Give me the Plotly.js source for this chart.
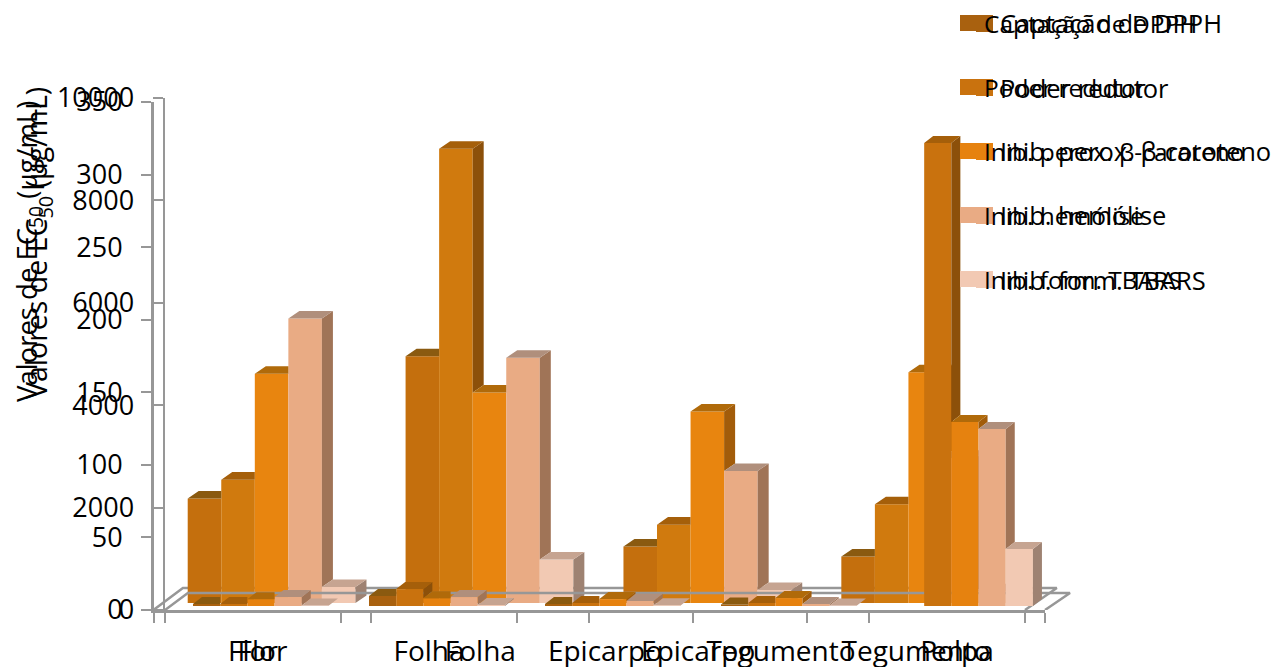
<!DOCTYPE html>
<html>
<head>
<meta charset="utf-8">
<script src="https://cdn.plot.ly/plotly-3.0.1.min.js"></script>
<style>html,body{margin:0;padding:0;background:#fff}#chart{width:1276px;height:667px}</style>
</head>
<body>
<div id="chart"></div>
<script>
// Categories of each of the two superimposed charts
const categoriesWide = ['Flor', 'Folha', 'Epicarpo', 'Tegumento'];
const categoriesNarrow = ['Flor', 'Folha', 'Epicarpo', 'Tegumento', 'Polpa'];

const seriesNames = ['Captação de DPPH', 'Poder redutor', 'Inib. perox. β-caroteno', 'Inib. hemólise', 'Inib. form. TBARS'];

// EC50 values, 0-350 scale (one row per series, one column per category)
const wideDpph = [72, 170, 39, 32];
const wideReducing = [85, 313, 54, 68];
const wideCarotene = [158, 145, 132, 159];
const wideHemolysis = [196, 169, 91, 100];
const wideTbars = [11, 30, 9, 8];

// EC50 values, 0-10000 scale; null where a sample has no bar
const narrowDpph = [40, 195, 40, 30, null];
const narrowReducing = [40, 330, 60, 60, 9043];
const narrowCarotene = [130, 150, 135, 155, 3594];
const narrowHemolysis = [175, 175, 100, 40, 3457];
const narrowTbars = [10, 20, 15, 10, 1113];

const ticksWide = [0, 50, 100, 150, 200, 250, 300, 350];
const ticksNarrow = [0, 2000, 4000, 6000, 8000, 10000];

const legendColors = ['#A9610F', '#C9720E', '#E6820F', '#E9AB84', '#F2C9B3'];
const wideFrontColors = ['#C46F0D', '#D07A0E', '#E8850F', '#E9AB84', '#F2C9B3'];
const sideColors = ['#7C4608', '#8C500A', '#A25C0A', '#A07457', '#9E8272'];
const topColors = ['#8A5A10', '#A55F0A', '#B06A0A', '#B08F7C', '#C6A491'];

const W = 1276, H = 667;
const AXIS_GREY = '#979797';
const FONT = 'Open Sans, sans-serif';
const fx = px => px / W;
const fy = px => 1 - px / H;

// Description of one oblique 3D bar chart on its own numeric axes
const wide = {
  categories: categoriesWide,
  series: [wideDpph, wideReducing, wideCarotene, wideHemolysis, wideTbars],
  front: wideFrontColors,
  ticks: ticksWide, max: 350, left: 153.5, right: 1025, top: 102,
  barWidth: 0.154, firstOffset: -0.343, base: 4.8, depthX: 0.0505, depthY: 5.2,
  floor: {leftDx: 0.135, rightDx: 0.146, dy: 15.2}
};
const narrow = {
  categories: categoriesNarrow,
  series: [narrowDpph, narrowReducing, narrowCarotene, narrowHemolysis, narrowTbars],
  front: legendColors,
  ticks: ticksNarrow, max: 10000, left: 165, right: 1045, top: 98,
  barWidth: 0.1545, firstOffset: -0.341, base: 78, depthX: 0.0511, depthY: 137,
  floor: {leftDx: 0.13, rightDx: 0.142, dy: 332}
};
const BOTTOM = 610;
[wide, narrow].forEach(c => {
  c.xDomain = [fx(c.left), fx(c.right)];
  c.yDomain = [fy(BOTTOM), fy(c.top)];
});

// The floor sticks out past the plot area, so it gets a wider hidden subplot
function floorAxes(c) {
  const n = c.categories.length;
  const pxPerCat = (c.right - c.left) / n;
  const edge = 1120;
  return {
    x: {domain: [fx(c.left), fx(edge)], range: [-0.5, -0.5 + (edge - c.left) / pxPerCat], visible: false, fixedrange: true},
    y: {domain: c.yDomain, range: [0, c.max], visible: false, fixedrange: true}
  };
}
function floorTrace(c, xa, ya) {
  const n = c.categories.length, l = -0.5, r = n - 0.5, f = c.floor;
  return {
    type: 'scatter', mode: 'lines', xaxis: xa, yaxis: ya,
    x: [l, l + f.leftDx, r + f.rightDx, r],
    y: [0, f.dy, f.dy, 0],
    line: {color: AXIS_GREY, width: 2.5}, hoverinfo: 'skip', showlegend: false
  };
}

function barTraces(c, xa, ya) {
  const out = [], xs = c.categories.map((_, i) => i);
  c.series.forEach((vals, s) => {
    out.push({
      type: 'bar', xaxis: xa, yaxis: ya, x: xs, y: vals, base: c.base,
      width: c.barWidth, offset: c.firstOffset + s * c.barWidth,
      marker: {color: c.front[s], line: {width: 0}},
      name: seriesNames[s], showlegend: false, hoverinfo: 'skip'
    });
  });
  return out;
}

// Top and right faces, trimmed where the next bar's front face covers them
function depthTraces(c, xa, ya) {
  const out = [];
  c.series.forEach((vals, s) => {
    const sx = [], sy = [], tx = [], ty = [];
    vals.forEach((v, i) => {
      if (v === null) return;
      const x0 = i + c.firstOffset + s * c.barWidth, x1 = x0 + c.barWidth;
      const top = c.base + v;
      const next = s < c.series.length - 1 ? c.series[s + 1][i] : 0;
      if (next < v) {
        const low = c.base + next;
        sx.push(x1, x1 + c.depthX, x1 + c.depthX, x1, x1, null);
        sy.push(low, low + c.depthY, top + c.depthY, top, low, null);
        tx.push(x0, x1, x1 + c.depthX, x0 + c.depthX, x0, null);
        ty.push(top, top, top + c.depthY, top + c.depthY, top, null);
      } else {
        tx.push(x0, x1, x1, x0 + c.depthX, x0, null);
        ty.push(top, top, top + c.depthY, top + c.depthY, top, null);
      }
    });
    const face = (x, y, color) => ({
      type: 'scatter', mode: 'lines', xaxis: xa, yaxis: ya, x, y, fill: 'toself',
      fillcolor: color, line: {width: 0, color: color},
      showlegend: false, hoverinfo: 'skip'
    });
    out.push(face(sx, sy, sideColors[s]), face(tx, ty, topColors[s]));
  });
  return out;
}

function visibleX(c, fontSize, anchor) {
  const n = c.categories.length;
  return {
    domain: c.xDomain, range: [-0.5, n - 0.5], anchor, fixedrange: true,
    showline: true, linecolor: AXIS_GREY, linewidth: 2.5, showgrid: false, zeroline: false,
    tickmode: 'array', tickvals: c.categories.map((_, i) => i), ticktext: c.categories,
    ticks: '', ticklabelstandoff: 15, tickfont: {family: FONT, size: fontSize, color: '#000'},
    minor: {tickmode: 'array', tickvals: Array.from({length: n + 1}, (_, i) => i - 0.5),
      ticks: 'outside', ticklen: 10, tickwidth: 2, tickcolor: AXIS_GREY, showgrid: false}
  };
}
function visibleY(c, fontSize, anchor) {
  return {
    domain: c.yDomain, range: [0, c.max], anchor, fixedrange: true,
    showline: true, linecolor: AXIS_GREY, linewidth: 2.5, showgrid: false, zeroline: false,
    tickmode: 'array', tickvals: c.ticks, ticktext: c.ticks.map(String),
    ticks: 'outside', ticklen: 10, tickwidth: 2, tickcolor: AXIS_GREY, ticklabelstandoff: 13,
    tickfont: {family: FONT, size: fontSize, color: '#000'}
  };
}

const data = [
  floorTrace(wide, 'x', 'y'),
  ...barTraces(wide, 'x2', 'y2'), ...depthTraces(wide, 'x2', 'y2'),
  floorTrace(narrow, 'x3', 'y3'),
  ...barTraces(narrow, 'x4', 'y4'), ...depthTraces(narrow, 'x4', 'y4')
];

const legendRows = [23.5, 87.5, 151.5, 215.5, 279.5];
const shapes = [], annotations = [];
seriesNames.forEach((name, i) => {
  const y = legendRows[i];
  [[960, 993, y - 8.5, y + 7.5], [976, 993, y - 7, y + 8.5]].forEach(b => shapes.push({
    type: 'rect', xref: 'paper', yref: 'paper', layer: 'above',
    x0: fx(b[0]), x1: fx(b[1]), y0: fy(b[3]), y1: fy(b[2]),
    fillcolor: legendColors[i], line: {width: 0}
  }));
  [[982, 24.5], [998, 25.5]].forEach(t => annotations.push({
    xref: 'paper', yref: 'paper', x: fx(t[0]), y: fy(y), xanchor: 'left', yanchor: 'middle',
    text: name, showarrow: false, font: {family: FONT, size: t[1], color: '#000'}
  }));
});
[[28, 252, 27.5], [38, 243, 28.5]].forEach(t => annotations.push({
  xref: 'paper', yref: 'paper', x: fx(t[0]), y: fy(t[1]), xanchor: 'center', yanchor: 'middle',
  text: 'Valores de EC<sub>50</sub> (µg/mL)', textangle: -90, showarrow: false,
  font: {family: FONT, size: t[2], color: '#000'}
}));

const floorA = floorAxes(wide), floorB = floorAxes(narrow);
const layout = {
  width: W, height: H, margin: {l: 0, r: 0, t: 0, b: 0},
  paper_bgcolor: '#fff', plot_bgcolor: 'rgba(0,0,0,0)',
  barmode: 'overlay', showlegend: false, dragmode: false,
  xaxis: Object.assign(floorA.x, {anchor: 'y'}),
  yaxis: Object.assign(floorA.y, {anchor: 'x'}),
  xaxis2: visibleX(wide, 28, 'y2'),
  yaxis2: visibleY(wide, 27, 'x2'),
  xaxis3: Object.assign(floorB.x, {anchor: 'y3'}),
  yaxis3: Object.assign(floorB.y, {anchor: 'x3'}),
  xaxis4: visibleX(narrow, 28, 'y4'),
  yaxis4: visibleY(narrow, 27, 'x4'),
  shapes, annotations
};

Plotly.newPlot('chart', data, layout, {displayModeBar: false, staticPlot: true});
</script>
</body>
</html>
